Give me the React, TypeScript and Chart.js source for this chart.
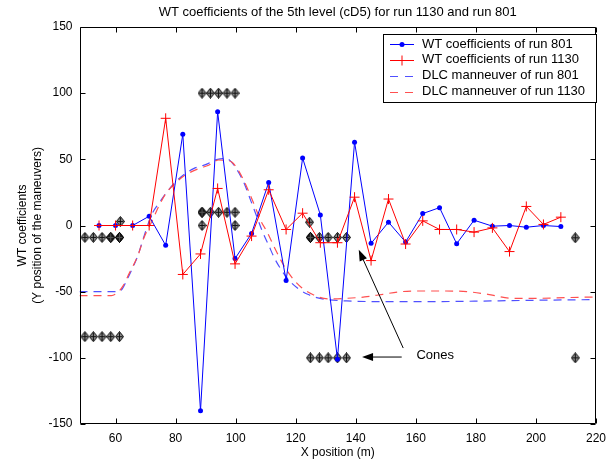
import React, { useEffect, useRef } from "react";
import { Chart, registerables } from "chart.js";

Chart.register(...registerables);

// ---------- data ----------
const xPositions = [
  54.5, 60.0, 65.7, 71.2, 76.7, 82.4, 88.3, 94.0, 99.8, 105.3, 111.0, 116.8, 122.3, 128.2,
  133.9, 139.6, 145.1, 150.9, 156.6, 162.3, 167.9, 173.6, 179.4, 185.5, 191.2, 196.8, 202.5, 208.3,
];
const wt801 = [
  0, 0, 0, 7, -15, 69, -140, 86, -25, -6, 32.5, -41.5, 51, 8,
  -101, 63, -13.5, 2.5, -12.5, 9, 13.5, -13.8, 4, -0.5, 0, -1.3, 0, -0.8,
];
const wt1130 = [
  0, 0, 0, 0, 81, -37, -21.5, 28, -29, -8, 27, -3, 9.3, -13,
  -13, 21.4, -26.5, 20, -14, 3.5, -3, -3, -5, -1.8, -19.7, 14.4, 0.8, 6.3,
];

const dlc801X = [48, 60.7, 62.2, 63.6, 65.5, 67.4, 69.5, 72, 74.5, 77, 80, 82.5, 86, 90, 94, 97, 99, 101, 103, 105, 107, 109, 111, 113, 115.2, 118, 121, 124, 127, 130.6, 137, 147, 165, 185, 200, 220];
const dlc801Y = [-50, -50, -48, -42, -33, -23, -8, 8, 17, 25, 33, 38, 43, 46, 50, 50.5, 47, 40, 31, 19, 7, -5, -15, -25, -33.5, -42, -48, -52, -54.5, -56, -57, -57.5, -57.5, -57, -56.5, -56];
const dlc1130X = [48, 58.6, 60.5, 62.4, 64.6, 67.4, 69.5, 72.3, 74.5, 77, 80, 82.5, 87.7, 91, 94.3, 97, 98.7, 100.5, 102.5, 104.5, 106.5, 108.5, 110.5, 113, 116, 119, 122, 126, 131, 137, 143, 149, 155, 161, 170, 177, 184, 192, 200, 210, 220];
const dlc1130Y = [-53, -53, -51, -46, -36, -23, -9, 4, 15, 25, 32, 37, 43, 45.5, 49.5, 49, 48, 43, 35, 25, 14, 3, -5, -17, -30, -40, -47, -52.5, -55.5, -55, -54, -52, -50, -49.5, -49.5, -50, -52, -55, -55, -54.5, -54];

const coneX = [
  49.8, 52.6, 55.5, 58.4, 61.3, 61.6,
  49.8, 52.6, 55.5, 58.4, 61.3,
  88.8, 91.6, 94.3, 97.1, 99.8,
  88.8, 91.6, 94.3, 97.1, 99.8,
  88.8, 99.8,
  124.6,
  124.9, 127.9, 130.8, 133.9, 136.9,
  124.9, 127.9, 130.8, 133.9, 136.9,
  213.1, 213.1,
];
const coneY = [
  -9, -9, -9, -9, -9, 3,
  -84, -84, -84, -84, -84,
  100, 100, 100, 100, 100,
  10, 10, 10, 10, 10,
  0, 0,
  2.5,
  -9, -9, -9, -9, -9,
  -100, -100, -100, -100, -100,
  -9.3, -100,
];
const darkConeX = [58.4, 61.3, 88.8, 124.9];
const darkConeY = [-9, -9, 10, -9];

const xTicks = [60, 80, 100, 120, 140, 160, 180, 200, 220];
const yTicks = [-150, -100, -50, 0, 50, 100, 150];

const titleText = "WT coefficients of the 5th level (cD5) for run 1130 and run 801";
const xLabelText = "X position (m)";
const yLabelLines = ["WT coefficients", "(Y position of the maneuvers)"];
const legendLabels = [
  "WT coefficients of run 801",
  "WT coefficients of run 1130",
  "DLC manneuver of run 801",
  "DLC manneuver of run 1130",
];
const noteText = "Cones";
// annotation arrows in data coordinates: [fromX, fromY, toX, toY]
const arrowLeft = [155.3, -99.4, 142.1, -99.4];
const arrowUp = [155.8, -92.6, 141.0, -18.4];
const notePos = [160.2, -98];

// ---------- styling ----------
const FONT = '"Liberation Sans", Arial, Helvetica, sans-serif';
const BLUE = "#0000ff";
const RED = "#ff0000";
const BLUE_D = "#5050ff";
const RED_D = "#ff5050";

function makeCone(dark: boolean): HTMLCanvasElement {
  const c = document.createElement("canvas");
  const w = 9;
  const h = 11;
  c.width = w;
  c.height = h;
  const g = c.getContext("2d")!;
  const cx = w / 2;
  const cy = h / 2;
  g.beginPath();
  g.moveTo(cx, 0.5);
  g.lineTo(w - 0.5, cy);
  g.lineTo(cx, h - 0.5);
  g.lineTo(0.5, cy);
  g.closePath();
  g.fillStyle = dark ? "#1a1a1a" : "#8a8a8a";
  g.fill();
  g.strokeStyle = "#000";
  g.lineWidth = 1;
  g.stroke();
  g.beginPath();
  g.moveTo(cx, 1.5);
  g.lineTo(cx, h - 1.5);
  g.moveTo(1.5, cy);
  g.lineTo(w - 1.5, cy);
  g.strokeStyle = dark ? "#555" : "#111";
  g.stroke();
  return c;
}

function arrow(ctx: CanvasRenderingContext2D, x1: number, y1: number, x2: number, y2: number) {
  const ang = Math.atan2(y2 - y1, x2 - x1);
  const L = 11;
  const W = 4;
  ctx.beginPath();
  ctx.moveTo(x1, y1);
  ctx.lineTo(x2 - Math.cos(ang) * L * 0.8, y2 - Math.sin(ang) * L * 0.8);
  ctx.stroke();
  ctx.beginPath();
  ctx.moveTo(x2, y2);
  ctx.lineTo(x2 - Math.cos(ang) * L - Math.sin(ang) * W, y2 - Math.sin(ang) * L + Math.cos(ang) * W);
  ctx.lineTo(x2 - Math.cos(ang) * L + Math.sin(ang) * W, y2 - Math.sin(ang) * L - Math.cos(ang) * W);
  ctx.closePath();
  ctx.fill();
}

const overlay = {
  id: "overlay",
  afterDatasetsDraw(chart: any) {
    const { ctx, chartArea: a, scales } = chart;
    const xs = scales.x;
    const ys = scales.y;
    ctx.save();
    ctx.strokeStyle = "#000";
    ctx.fillStyle = "#000";
    ctx.lineWidth = 1;
    const px = (v: number) => xs.getPixelForValue(v);
    const py = (v: number) => ys.getPixelForValue(v);
    arrow(ctx, px(arrowLeft[0]), py(arrowLeft[1]), px(arrowLeft[2]), py(arrowLeft[3]));
    arrow(ctx, px(arrowUp[0]), py(arrowUp[1]), px(arrowUp[2]), py(arrowUp[3]));
    ctx.font = `13px ${FONT}`;
    ctx.textAlign = "left";
    ctx.textBaseline = "middle";
    ctx.fillText(noteText, px(notePos[0]), py(notePos[1]));

    const L = Math.round(a.left) + 0.5;
    const R = Math.round(a.right) - 0.5;
    const T = Math.round(a.top) + 0.5;
    const B = Math.round(a.bottom) - 0.5;
    ctx.beginPath();
    ctx.rect(L, T, R - L, B - T);
    ctx.stroke();
    ctx.beginPath();
    for (const v of xTicks) {
      const X = Math.round(px(v)) + 0.5;
      ctx.moveTo(X, B);
      ctx.lineTo(X, B - 5);
      ctx.moveTo(X, T);
      ctx.lineTo(X, T + 5);
    }
    for (const v of yTicks) {
      const Y = Math.round(py(v)) + 0.5;
      ctx.moveTo(L, Y);
      ctx.lineTo(L + 5, Y);
      ctx.moveTo(R, Y);
      ctx.lineTo(R - 5, Y);
    }
    ctx.stroke();
    ctx.restore();
  },
  afterDraw(chart: any) {
    const { ctx, chartArea: a } = chart;
    ctx.save();
    ctx.fillStyle = "#000";
    ctx.font = `13px ${FONT}`;
    ctx.textAlign = "center";
    ctx.textBaseline = "middle";
    const cx = (a.left + a.right) / 2;
    ctx.fillText(titleText, cx, 12);
    ctx.font = `12px ${FONT}`;
    ctx.fillText(xLabelText, cx, 453);
    const cy = (a.top + a.bottom) / 2;
    ctx.save();
    ctx.translate(23, cy);
    ctx.rotate(-Math.PI / 2);
    ctx.fillText(yLabelLines[0], 0, 0);
    ctx.restore();
    ctx.save();
    ctx.translate(38, cy);
    ctx.rotate(-Math.PI / 2);
    ctx.fillText(yLabelLines[1], 0, 0);
    ctx.restore();

    const bx = 383.5, by = 34.5, bw = 213, bh = 68;
    ctx.fillStyle = "#fff";
    ctx.fillRect(bx, by, bw, bh);
    ctx.strokeStyle = "#000";
    ctx.lineWidth = 1;
    ctx.strokeRect(bx, by, bw, bh);
    const rows = [44, 59.5, 75.5, 91.5];
    const colors = [BLUE, RED, BLUE_D, RED_D];
    ctx.font = `13px ${FONT}`;
    ctx.textAlign = "left";
    ctx.textBaseline = "middle";
    rows.forEach((ry, i) => {
      ctx.strokeStyle = colors[i];
      ctx.fillStyle = colors[i];
      ctx.setLineDash(i >= 2 ? [8, 7] : []);
      ctx.beginPath();
      ctx.moveTo(390, Math.round(ry) + 0.5);
      ctx.lineTo(414, Math.round(ry) + 0.5);
      ctx.stroke();
      ctx.setLineDash([]);
      const mx = 402, my = Math.round(ry) + 0.5;
      if (i === 0) {
        ctx.beginPath();
        ctx.arc(mx, my, 2.5, 0, Math.PI * 2);
        ctx.fill();
      } else if (i === 1) {
        ctx.beginPath();
        ctx.moveTo(mx - 5, my);
        ctx.lineTo(mx + 5, my);
        ctx.moveTo(mx, my - 5);
        ctx.lineTo(mx, my + 5);
        ctx.stroke();
      }
      ctx.fillStyle = "#000";
      ctx.fillText(legendLabels[i], 422, ry);
    });
    ctx.restore();
  },
};

export default function App() {
  const ref = useRef<HTMLCanvasElement | null>(null);
  useEffect(() => {
    if (!ref.current) return;
    const cone = makeCone(false);
    const darkCone = makeCone(true);
    const chart = new Chart(ref.current, {
      type: "line",
      data: {
        datasets: [
          {
            label: legendLabels[1],
            data: xPositions.map((x, i) => ({ x, y: wt1130[i] })),
            borderColor: RED,
            backgroundColor: RED,
            borderWidth: 1,
            pointStyle: "cross",
            pointRadius: 5,
            pointBorderWidth: 1,
            tension: 0,
          },
          {
            label: legendLabels[0],
            data: xPositions.map((x, i) => ({ x, y: wt801[i] })),
            borderColor: BLUE,
            backgroundColor: BLUE,
            borderWidth: 1,
            pointStyle: "circle",
            pointRadius: 2.5,
            pointBorderWidth: 0,
            tension: 0,
          },
          {
            label: legendLabels[3],
            data: dlc1130X.map((x, i) => ({ x, y: dlc1130Y[i] })),
            borderColor: RED_D,
            borderWidth: 1.2,
            borderDash: [8, 6],
            pointRadius: 0,
            cubicInterpolationMode: "monotone",
          },
          {
            label: legendLabels[2],
            data: dlc801X.map((x, i) => ({ x, y: dlc801Y[i] })),
            borderColor: BLUE_D,
            borderWidth: 1.2,
            borderDash: [8, 6],
            pointRadius: 0,
            cubicInterpolationMode: "monotone",
          },
          {
            label: "dark cones",
            data: darkConeX.map((x, i) => ({ x, y: darkConeY[i] })),
            showLine: false,
            pointStyle: darkCone as any,
            pointRadius: 5,
          },
          {
            label: "cones",
            data: coneX.map((x, i) => ({ x, y: coneY[i] })),
            showLine: false,
            pointStyle: cone as any,
            pointRadius: 5,
          },
        ],
      },
      options: {
        responsive: false,
        animation: false,
        events: [],
        layout: { padding: { left: 0, right: 12, top: 27, bottom: 0 } },
        plugins: {
          legend: { display: false },
          title: { display: false },
          tooltip: { enabled: false },
        },
        scales: {
          x: {
            type: "linear",
            min: 48,
            max: 220,
            grid: { display: false, drawTicks: false },
            border: { display: false },
            ticks: {
              color: "#000",
              font: { family: FONT, size: 12 },
              padding: 7,
              maxRotation: 0,
            },
            afterBuildTicks: (s: any) => {
              s.ticks = xTicks.map((v) => ({ value: v }));
            },
            afterFit: (s: any) => {
              s.height = 40;
            },
          },
          y: {
            type: "linear",
            min: -150,
            max: 150,
            grid: { display: false, drawTicks: false },
            border: { display: false },
            ticks: {
              color: "#000",
              font: { family: FONT, size: 12 },
              padding: 7,
            },
            afterBuildTicks: (s: any) => {
              s.ticks = yTicks.map((v) => ({ value: v }));
            },
            afterFit: (s: any) => {
              s.width = 79.5;
            },
          },
        },
      },
      plugins: [overlay],
    });
    return () => chart.destroy();
  }, []);
  return (
    <div style={{ position: "absolute", left: 0, top: 0, width: 613, height: 464, background: "#fff" }}>
      <canvas ref={ref} width={613} height={464} style={{ display: "block" }} />
    </div>
  );
}
